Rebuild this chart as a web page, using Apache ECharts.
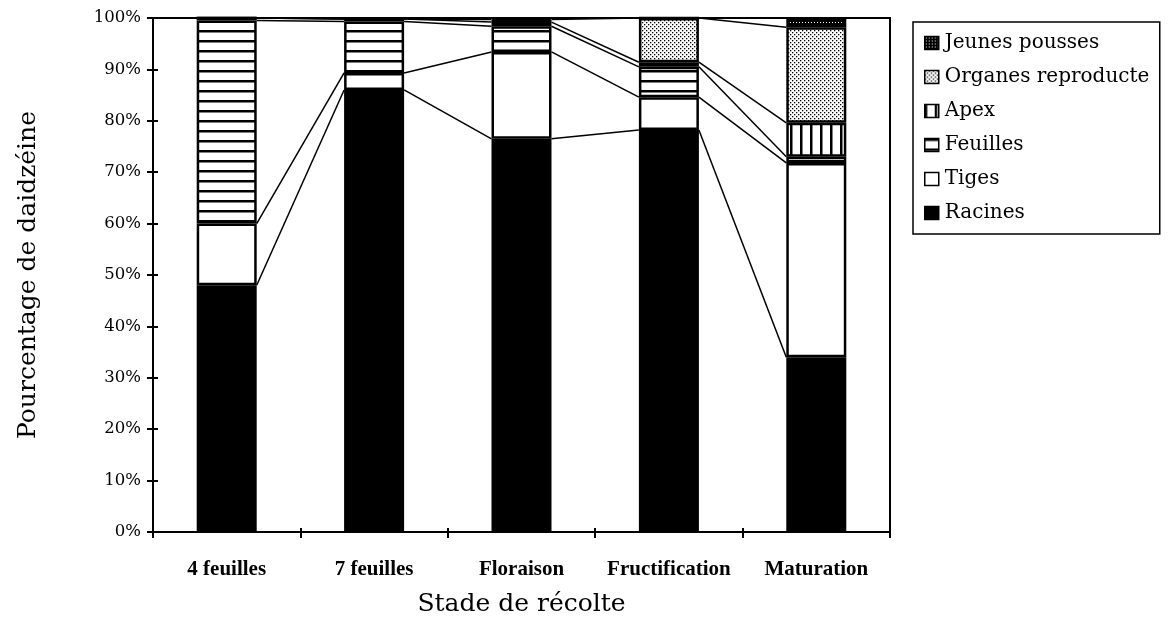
<!DOCTYPE html>
<html>
<head>
<meta charset="utf-8">
<script src="https://cdn.jsdelivr.net/npm/echarts@6/dist/echarts.min.js"></script>
<style>html,body{margin:0;padding:0;background:#fff}#c{width:1169px;height:626px}</style>
</head>
<body>
<div id="c"></div>
<script>
const categories = ['4 feuilles', '7 feuilles', 'Floraison', 'Fructification', 'Maturation'];
const racines  = [48.0, 86.0, 76.5, 78.2, 34.0];
const tiges    = [12.0,  3.3, 16.9,  6.4, 37.8];
const feuilles = [39.5, 10.0,  5.0,  5.9,  1.2];
const apex     = [ 0.5,  0.5,  0.8,  0.9,  6.6];
const organes  = [ 0.0,  0.0,  0.5,  8.6, 18.6];
const jeunes   = [ 0.0,  0.2,  0.3,  0.0,  1.8];
const yTicks = ['0%','10%','20%','30%','40%','50%','60%','70%','80%','90%','100%'];

const seriesNames = ['Racines','Tiges','Feuilles','Apex','Organes reproducteurs','Jeunes pousses'];
const seriesData = [racines, tiges, feuilles, apex, organes, jeunes];

function makePattern(w, h, draw) {
  const c = document.createElement('canvas');
  c.width = w; c.height = h;
  const ctx = c.getContext('2d');
  ctx.fillStyle = '#fff'; ctx.fillRect(0, 0, w, h);
  ctx.fillStyle = '#000';
  draw(ctx);
  return { image: c, repeat: 'repeat' };
}
const patFeuilles = makePattern(10, 10, ctx => ctx.fillRect(0, 0, 10, 2.5));
const patApex = makePattern(10, 10, ctx => ctx.fillRect(0, 0, 2.5, 10));
const patOrganes = makePattern(4, 4, ctx => { ctx.fillRect(0, 0, 1.3, 1.3); ctx.fillRect(2, 2, 1.3, 1.3); });
const patJeunes = makePattern(3, 3, ctx => { ctx.fillRect(0, 0, 3, 3); ctx.fillStyle = '#fff'; ctx.fillRect(1, 1, 1, 1); });
const fills = ['#000', '#fff', patFeuilles, patApex, patOrganes, patJeunes];

const BAR_W = 60;

// cumulative tops for series lines
const tops = [];
let acc = categories.map(() => 0);
seriesData.forEach(arr => {
  acc = acc.map((v, i) => v + arr[i]);
  tops.push(acc.slice());
});
const lineData = [];
tops.forEach(t => {
  for (let i = 0; i < categories.length - 1; i++) lineData.push([i, t[i], t[i + 1]]);
});

const chart = echarts.init(document.getElementById('c'), null, { renderer: 'canvas' });

const barSeries = seriesNames.map((name, k) => ({
  name: name,
  type: 'bar',
  stack: 'total',
  barWidth: BAR_W,
  data: seriesData[k],
  itemStyle: { color: fills[k], borderColor: '#000', borderWidth: 2.5 },
  emphasis: { disabled: true },
  animation: false
}));

const option = {
  animation: false,
  grid: { left: 153, right: 279, top: 18, bottom: 94, show: true, borderColor: '#000', borderWidth: 2, backgroundColor: 'transparent' },
  legend: {
    orient: 'vertical',
    left: 913, top: 22,
    data: ['Jeunes pousses', 'Organes reproducteurs', 'Apex', 'Feuilles', 'Tiges', 'Racines'],
    icon: 'rect',
    itemWidth: 14, itemHeight: 13,
    itemGap: 12,
    padding: [10, 2, 10, 11],
    borderColor: '#000', borderWidth: 1.5,
    selectedMode: false,
    textStyle: { fontFamily: 'DejaVu Serif', fontSize: 20, color: '#000', padding: [0, 0, 0, 1], width: 213, overflow: 'truncate', ellipsis: '', lineHeight: 22 },
    itemStyle: { borderColor: '#000', borderWidth: 1.5 }
  },
  xAxis: [{
    type: 'category',
    data: categories,
    name: 'Stade de récolte',
    nameLocation: 'middle',
    nameGap: 60,
    nameTextStyle: { fontFamily: 'DejaVu Serif', fontSize: 25, color: '#000' },
    axisLine: { lineStyle: { color: '#000', width: 2 } },
    axisTick: { show: true, interval: 0, length: 6, lineStyle: { color: '#000', width: 2 } },
    axisLabel: { interval: 0, hideOverlap: false, fontFamily: 'Liberation Serif', fontWeight: 'bold', fontSize: 21, color: '#000', margin: 27 }
  }, {
    type: 'category',
    data: categories,
    position: 'bottom',
    axisLine: { show: false },
    axisTick: { show: true, interval: 0, inside: true, length: 4, lineStyle: { color: '#000', width: 2 } },
    axisLabel: { show: false }
  }],
  yAxis: [{
    type: 'value',
    min: 0, max: 100, interval: 10,
    name: 'Pourcentage de daidzéine',
    nameLocation: 'middle',
    nameGap: 112,
    nameTextStyle: { fontFamily: 'DejaVu Serif', fontSize: 25, color: '#000' },
    axisLine: { show: true, lineStyle: { color: '#000', width: 2 } },
    axisTick: { show: true, length: 6, lineStyle: { color: '#000', width: 2 } },
    splitLine: { show: false },
    axisLabel: { fontFamily: 'DejaVu Serif', fontSize: 16.5, color: '#000', margin: 12, formatter: (v) => yTicks[Math.round(v / 10)] }
  }, {
    type: 'value',
    min: 0, max: 100, interval: 10,
    position: 'left',
    axisLine: { show: false },
    axisTick: { show: true, inside: true, length: 5, lineStyle: { color: '#000', width: 2 } },
    splitLine: { show: false },
    axisLabel: { show: false }
  }],
  series: barSeries.concat([{
    type: 'custom',
    name: 'lines',
    data: lineData,
    silent: true,
    z: 5,
    encode: { x: 0, y: 1 },
    renderItem: function (params, api) {
      const i = api.value(0);
      const p1 = api.coord([i, api.value(1)]);
      const p2 = api.coord([i + 1, api.value(2)]);
      return {
        type: 'line',
        shape: { x1: p1[0] + BAR_W / 2, y1: p1[1], x2: p2[0] - BAR_W / 2, y2: p2[1] },
        style: { stroke: '#000', lineWidth: 1.5 }
      };
    }
  }])
};
chart.setOption(option);
</script>
</body>
</html>
